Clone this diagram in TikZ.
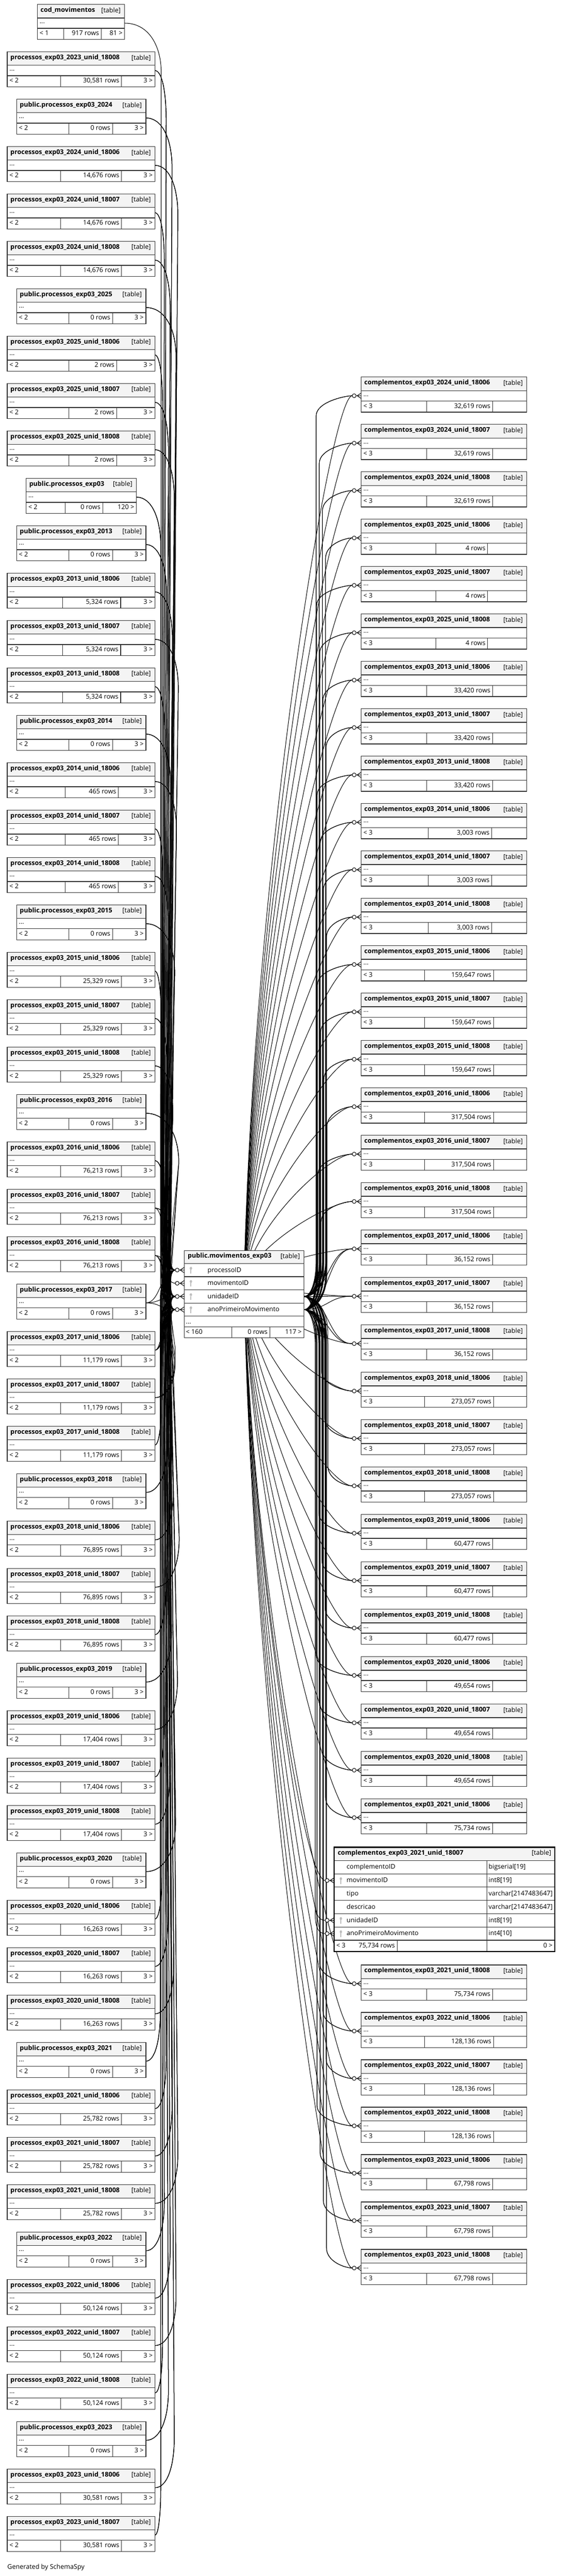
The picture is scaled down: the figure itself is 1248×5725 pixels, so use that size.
\documentclass[tikz,border=0pt]{standalone}
\usepackage{fontspec}
\setmainfont{Open Sans}
\definecolor{hdr}{RGB}{244,244,244}
\definecolor{bord}{RGB}{50,50,50}
\definecolor{keyg}{RGB}{190,190,190}
\pgfdeclarelayer{bg}
\pgfdeclarelayer{edges}
\pgfsetlayers{bg,edges,main}
\tikzset{
  tframe/.style={draw=none, fill=white, inner sep=0pt, outer sep=0pt, anchor=north west},
  cell/.style={draw=bord, line width=1.3pt},
  txt/.style={inner sep=0pt, outer sep=0pt, font=\fontsize{14.4}{17}\selectfont},
  conn/.style={draw=black, line width=1.15pt},
}
% crow's foot with open circle; port edge at x=#1, y=#2
\newcommand\crow[2]{%
  \pgfmathsetmacro\cwA{#1-9}\pgfmathsetmacro\cwB{#1-11}\pgfmathsetmacro\cwC{#1-15.5}%
  \pgfmathsetmacro\cwU{#2-6}\pgfmathsetmacro\cwD{#2+6}%
  \draw[conn] (\cwA,#2) -- (#1,\cwU) (\cwA,#2) -- (#1,\cwD) (\cwB,#2) -- (#1,#2);
  \draw[conn, fill=white] (\cwC,#2) circle (4.3);
}
\newcommand\keyicon[2]{%
  \pgfmathsetmacro\kyA{#2-4}\pgfmathsetmacro\kxA{#1-1.2}\pgfmathsetmacro\kxB{#1+1.2}%
  \pgfmathsetmacro\kyB{#2-1}\pgfmathsetmacro\kyC{#2+7.5}%
  \fill[keyg] (#1,\kyA) ellipse (2.7 and 3.2);
  \fill[keyg] (\kxA,\kyB) rectangle (\kxB,\kyC);
}
% small collapsed table: #1 name #2 x1 #3 x2 #4 ytop #5 title #6 left footer #7 rows #8 right footer ; dividers \dA \dB
\newcommand\stbl[8]{%
  \pgfmathsetmacro\tW{#3-#2}%
  \pgfmathsetmacro\yH{#4+30}\pgfmathsetmacro\yB{#4+53}\pgfmathsetmacro\yF{#4+78}%
  \pgfmathsetmacro\yT{#4+17}\pgfmathsetmacro\yK{#4+17.5}\pgfmathsetmacro\yD{#4+42.5}\pgfmathsetmacro\yR{#4+69}%
  \pgfmathsetmacro\yP{#4+41.5}%
  \pgfmathsetmacro\xT{#2+7}\pgfmathsetmacro\xK{#3-9}\pgfmathsetmacro\xL{#2+5}\pgfmathsetmacro\xN{\dB-5}\pgfmathsetmacro\xR{#3-5}%
  \node[tframe, minimum width=\tW pt, minimum height=78pt] (#1) at (#2,#4) {};
  \fill[hdr] (#2,#4) rectangle (#3,\yH);
  \draw[cell] (#2,#4) rectangle (#3,\yF) (#2,\yH) -- (#3,\yH) (#2,\yB) -- (#3,\yB) (\dA,\yB) -- (\dA,\yF) (\dB,\yB) -- (\dB,\yF);
  \node[txt, anchor=base west] (#1-t) at (\xT,\yT) {\bfseries #5};
  \node[txt, anchor=base east] (#1-k) at (\xK,\yK) {\relax[table]};
  \node[txt, anchor=base west] (#1-b) at (\xL,\yD) {...};
  \node[txt, anchor=base west] (#1-l) at (\xL,\yR) {#6};
  \node[txt, anchor=base east] (#1-n) at (\xN,\yR) {#7};
  \node[txt, anchor=base east] (#1-r) at (\xR,\yR) {#8};
  \coordinate (#1-p) at (#3,\yP);
}
\newcommand\LU[5]{%
  \pgfmathsetmacro\ty{10+#1*105.333}\def\dA{#4}\def\dB{#5}%
  \stbl{L#1}{16}{344}{\ty}{processos\_exp03\_#2}{< 2}{#3 rows}{3 >}%
  \expandafter\xdef\csname xsL#1\endcsname{344}%
}
\newcommand\LP[2]{%
  \pgfmathsetmacro\ty{10+#1*105.333}\def\dA{153}\def\dB{250}%
  \stbl{L#1}{37}{324}{\ty}{public.processos\_exp03\_#2}{< 2}{0 rows}{3 >}%
  \expandafter\xdef\csname xsL#1\endcsname{324}%
}
\newcommand\RC[5]{%
  \ifnum#1<31 \pgfmathsetmacro\ty{838+#1*105.333}\else\pgfmathsetmacro\ty{4367+(#1-32)*105.333}\fi
  \def\dA{#4}\def\dB{#5}%
  \stbl{R#1}{802}{1170}{\ty}{complementos\_exp03\_#2}{< 3}{#3 rows}{}%
  \pgfmathsetmacro\yt{\ty+41.5}%
  \expandafter\xdef\csname ytR#1\endcsname{\yt}%
  \coordinate (R#1-c) at (782.2,\yt);
  \crow{802}{\yt}%
}
% left edge: from, to, xs, ys, yp, bx
\newcommand\ledge[6]{%
  \pgfmathsetmacro\dy{#5-#4}\pgfmathsetmacro\ady{abs(\dy)}\pgfmathsetmacro\sg{\dy>0 ? 1 : -1}%
  \ifdim\ady pt>180pt
    \pgfmathsetmacro\hA{min(110,0.4*\ady)}\pgfmathsetmacro\hB{min(60,0.25*\ady)}%
    \pgfmathsetmacro\cAx{#3+0.65*(#6-#3)}\pgfmathsetmacro\cBy{#4+\sg*0.45*\hA}\pgfmathsetmacro\pAy{#4+\sg*\hA}%
    \pgfmathsetmacro\bxe{356+(#6-356)*0.55}\pgfmathsetmacro\pBy{#5-\sg*\hB}\pgfmathsetmacro\cCy{#5-\sg*0.35*\hB}%
    \draw[conn] (#1) .. controls (\cAx,#4) and (#6,\cBy) .. (#6,\pAy) -- (\bxe,\pBy) .. controls (\bxe,\cCy) and (378,#5) .. (#2);
  \else
    \pgfmathsetmacro\cAx{#3+0.5*(389-#3)}%
    \draw[conn] (#1) .. controls (\cAx,#4) and (\cAx,#5) .. (#2);
  \fi
}
% right edge: from, to, ysrc, yt, bx, xe
\newcommand\redge[6]{%
  \pgfmathsetmacro\dy{#4-#3}\pgfmathsetmacro\ady{abs(\dy)}\pgfmathsetmacro\sg{\dy>0 ? 1 : -1}%
  \ifdim\ady pt>150pt
    \pgfmathsetmacro\hA{min(80,0.35*\ady)}\pgfmathsetmacro\hB{min(45,0.25*\ady)}%
    \pgfmathsetmacro\cAx{675+0.6*(#5-675)}\pgfmathsetmacro\cBy{#3+\sg*0.45*\hA}\pgfmathsetmacro\pAy{#3+\sg*\hA}%
    \pgfmathsetmacro\pBy{#4-\sg*\hB}\pgfmathsetmacro\cCy{#4-\sg*0.3*\hB}\pgfmathsetmacro\cDx{#6-15}%
    \draw[conn] (#1) .. controls (\cAx,#3) and (#5,\cBy) .. (#5,\pAy) -- (#5,\pBy) .. controls (#5,\cCy) and (\cDx,#4) .. (#2);
  \else
    \pgfmathsetmacro\cAx{675+0.5*(#6-675)}%
    \draw[conn] (#1) .. controls (\cAx,#3) and (\cAx,#4) .. (#2);
  \fi
}
% edge from movimentoID (center of central table): to, yt, xe
\newcommand\medge[3]{%
  \pgfmathsetmacro\cAy{2852+0.45*(#2-2852)}\pgfmathsetmacro\cBx{#3-50}%
  \draw[conn] (MV-c) .. controls (560,\cAy) and (\cBx,#2) .. (#1);
}
\begin{document}
\begin{tikzpicture}[x=1pt,y=-1pt]
\useasboundingbox (0,0) rectangle (1248,5725);
\begin{pgfonlayer}{bg}
\fill[white] (0,0) rectangle (1248,5725);
\end{pgfonlayer}

% ---------------- left column ----------------
\def\dA{141}\def\dB{225}
\stbl{L0}{83}{277}{10}{cod\_movimentos}{< 1}{917 rows}{81 >}
\LU{1}{2023\_unid\_18008}{30,581}{135}{270}
\LP{2}{2024}
\LU{3}{2024\_unid\_18006}{14,676}{135}{270}
\LU{4}{2024\_unid\_18007}{14,676}{135}{270}
\LU{5}{2024\_unid\_18008}{14,676}{135}{270}
\LP{6}{2025}
\LU{7}{2025\_unid\_18006}{2}{153}{259}
\LU{8}{2025\_unid\_18007}{2}{153}{259}
\LU{9}{2025\_unid\_18008}{2}{153}{259}
\pgfmathsetmacro\ty{10+10*105.333}\def\dA{145}\def\dB{228}
\stbl{L10}{58}{303}{\ty}{public.processos\_exp03}{< 2}{0 rows}{120 >}
\expandafter\xdef\csname xsL10\endcsname{303}
\LP{11}{2013}
\LU{12}{2013\_unid\_18006}{5,324}{139}{268}
\LU{13}{2013\_unid\_18007}{5,324}{139}{268}
\LU{14}{2013\_unid\_18008}{5,324}{139}{268}
\LP{15}{2014}
\LU{16}{2014\_unid\_18006}{465}{145}{263}
\LU{17}{2014\_unid\_18007}{465}{145}{263}
\LU{18}{2014\_unid\_18008}{465}{145}{263}
\LP{19}{2015}
\LU{20}{2015\_unid\_18006}{25,329}{135}{270}
\LU{21}{2015\_unid\_18007}{25,329}{135}{270}
\LU{22}{2015\_unid\_18008}{25,329}{135}{270}
\LP{23}{2016}
\LU{24}{2016\_unid\_18006}{76,213}{135}{270}
\LU{25}{2016\_unid\_18007}{76,213}{135}{270}
\LU{26}{2016\_unid\_18008}{76,213}{135}{270}
\LP{27}{2017}
\LU{28}{2017\_unid\_18006}{11,179}{135}{270}
\LU{29}{2017\_unid\_18007}{11,179}{135}{270}
\LU{30}{2017\_unid\_18008}{11,179}{135}{270}
\LP{31}{2018}
\LU{32}{2018\_unid\_18006}{76,895}{135}{270}
\LU{33}{2018\_unid\_18007}{76,895}{135}{270}
\LU{34}{2018\_unid\_18008}{76,895}{135}{270}
\LP{35}{2019}
\LU{36}{2019\_unid\_18006}{17,404}{135}{270}
\LU{37}{2019\_unid\_18007}{17,404}{135}{270}
\LU{38}{2019\_unid\_18008}{17,404}{135}{270}
\LP{39}{2020}
\LU{40}{2020\_unid\_18006}{16,263}{135}{270}
\LU{41}{2020\_unid\_18007}{16,263}{135}{270}
\LU{42}{2020\_unid\_18008}{16,263}{135}{270}
\LP{43}{2021}
\LU{44}{2021\_unid\_18006}{25,782}{135}{270}
\LU{45}{2021\_unid\_18007}{25,782}{135}{270}
\LU{46}{2021\_unid\_18008}{25,782}{135}{270}
\LP{47}{2022}
\LU{48}{2022\_unid\_18006}{50,124}{135}{270}
\LU{49}{2022\_unid\_18007}{50,124}{135}{270}
\LU{50}{2022\_unid\_18008}{50,124}{135}{270}
\LP{51}{2023}
\LU{52}{2023\_unid\_18006}{30,581}{135}{270}
\LU{53}{2023\_unid\_18007}{30,581}{135}{270}

% ---------------- central table ----------------
\node[tframe, minimum width=266pt, minimum height=194pt] (MV) at (409,2779) {};
\fill[hdr] (409,2779) rectangle (675,2808);
\draw[cell] (409,2779) rectangle (675,2973)
  (409,2808) -- (675,2808) (409,2837.3) -- (675,2837.3) (409,2866.7) -- (675,2866.7)
  (409,2896) -- (675,2896) (409,2925) -- (675,2925) (409,2949) -- (675,2949)
  (515,2949) -- (515,2973) (599,2949) -- (599,2973);
\node[txt, anchor=base west] (MV-t) at (417,2796) {\bfseries public.movimentos\_exp03};
\node[txt, anchor=base east] (MV-k) at (666,2796.5) {\relax[table]};
\node[txt, anchor=base west] (MV-f1) at (461,2827) {processoID};
\node[txt, anchor=base west] (MV-f2) at (461,2856.3) {movimentoID};
\node[txt, anchor=base west] (MV-f3) at (461,2885.7) {unidadeID};
\node[txt, anchor=base west] (MV-f4) at (461,2915) {anoPrimeiroMovimento};
\keyicon{424}{2822.6}\keyicon{424}{2852}\keyicon{424}{2881.3}\keyicon{424}{2910.5}
\node[txt, anchor=base west] (MV-b) at (413,2942.5) {...};
\node[txt, anchor=base west] (MV-l) at (413,2965) {< 160};
\node[txt, anchor=base east] (MV-n) at (594,2965) {0 rows};
\node[txt, anchor=base east] (MV-r) at (670,2965) {117 >};
\coordinate (MV-P) at (389.2,2822.6);
\coordinate (MV-M) at (389.2,2852);
\coordinate (MV-U) at (389.2,2881.3);
\coordinate (MV-A) at (389.2,2910.5);
\coordinate (MV-Uo) at (675,2881.3);
\coordinate (MV-Ao) at (675,2910.5);
\coordinate (MV-c) at (542,2852);
\crow{409}{2822.6}\crow{409}{2852}\crow{409}{2881.3}\crow{409}{2910.5}

% ---------------- right column ----------------
\RC{0}{2024\_unid\_18006}{32,619}{947}{1094}
\RC{1}{2024\_unid\_18007}{32,619}{947}{1094}
\RC{2}{2024\_unid\_18008}{32,619}{947}{1094}
\RC{3}{2025\_unid\_18006}{4}{968}{1083}
\RC{4}{2025\_unid\_18007}{4}{968}{1083}
\RC{5}{2025\_unid\_18008}{4}{968}{1083}
\RC{6}{2013\_unid\_18006}{33,420}{947}{1094}
\RC{7}{2013\_unid\_18007}{33,420}{947}{1094}
\RC{8}{2013\_unid\_18008}{33,420}{947}{1094}
\RC{9}{2014\_unid\_18006}{3,003}{951}{1092}
\RC{10}{2014\_unid\_18007}{3,003}{951}{1092}
\RC{11}{2014\_unid\_18008}{3,003}{951}{1092}
\RC{12}{2015\_unid\_18006}{159,647}{943}{1096}
\RC{13}{2015\_unid\_18007}{159,647}{943}{1096}
\RC{14}{2015\_unid\_18008}{159,647}{943}{1096}
\RC{15}{2016\_unid\_18006}{317,504}{943}{1096}
\RC{16}{2016\_unid\_18007}{317,504}{943}{1096}
\RC{17}{2016\_unid\_18008}{317,504}{943}{1096}
\RC{18}{2017\_unid\_18006}{36,152}{947}{1094}
\RC{19}{2017\_unid\_18007}{36,152}{947}{1094}
\RC{20}{2017\_unid\_18008}{36,152}{947}{1094}
\RC{21}{2018\_unid\_18006}{273,057}{943}{1096}
\RC{22}{2018\_unid\_18007}{273,057}{943}{1096}
\RC{23}{2018\_unid\_18008}{273,057}{943}{1096}
\RC{24}{2019\_unid\_18006}{60,477}{947}{1094}
\RC{25}{2019\_unid\_18007}{60,477}{947}{1094}
\RC{26}{2019\_unid\_18008}{60,477}{947}{1094}
\RC{27}{2020\_unid\_18006}{49,654}{947}{1094}
\RC{28}{2020\_unid\_18007}{49,654}{947}{1094}
\RC{29}{2020\_unid\_18008}{49,654}{947}{1094}
\RC{30}{2021\_unid\_18006}{75,734}{947}{1094}
\RC{32}{2021\_unid\_18008}{75,734}{947}{1094}
\RC{33}{2022\_unid\_18006}{128,136}{943}{1096}
\RC{34}{2022\_unid\_18007}{128,136}{943}{1096}
\RC{35}{2022\_unid\_18008}{128,136}{943}{1096}
\RC{36}{2023\_unid\_18006}{67,798}{947}{1094}
\RC{37}{2023\_unid\_18007}{67,798}{947}{1094}
\RC{38}{2023\_unid\_18008}{67,798}{947}{1094}

% ---------------- expanded table ----------------
\node[tframe, minimum width=490pt, minimum height=232pt] (R31) at (742,4105) {};
\fill[hdr] (742,4105) rectangle (1232,4135);
\draw[cell] (742,4135) -- (1232,4135) (742,4164.5) -- (1232,4164.5) (742,4194) -- (1232,4194)
  (742,4223.5) -- (1232,4223.5) (742,4253) -- (1232,4253) (742,4282.5) -- (1232,4282.5)
  (742,4312) -- (1232,4312) (1081,4135) -- (1081,4337) (882,4312) -- (882,4337);
\draw[black, line width=3pt] (742,4105) rectangle (1232,4337);
\node[txt, anchor=base west] (R31-t) at (750,4122) {\bfseries complementos\_exp03\_2021\_unid\_18007};
\node[txt, anchor=base east] (R31-k) at (1224,4122.5) {\relax[table]};
\node[txt, anchor=base west] (R31-f1) at (770,4154) {complementoID};
\node[txt, anchor=base west] (R31-f2) at (770,4183.5) {movimentoID};
\node[txt, anchor=base west] (R31-f3) at (770,4213) {tipo};
\node[txt, anchor=base west] (R31-f4) at (770,4242.5) {descricao};
\node[txt, anchor=base west] (R31-f5) at (770,4272) {unidadeID};
\node[txt, anchor=base west] (R31-f6) at (770,4301.5) {anoPrimeiroMovimento};
\node[txt, anchor=base west] (R31-y1) at (1085,4154) {bigserial[19]};
\node[txt, anchor=base west] (R31-y2) at (1085,4183.5) {int8[19]};
\node[txt, anchor=base west] (R31-y3) at (1085,4213) {varchar[2147483647]};
\node[txt, anchor=base west] (R31-y4) at (1085,4242.5) {varchar[2147483647]};
\node[txt, anchor=base west] (R31-y5) at (1085,4272) {int8[19]};
\node[txt, anchor=base west] (R31-y6) at (1085,4301.5) {int4[10]};
\keyicon{757}{4179.25}\keyicon{757}{4267.75}\keyicon{757}{4297.25}
\node[txt, anchor=base west] (R31-l) at (747,4328.5) {< 3};
\node[txt, anchor=base east] (R31-n) at (877,4328.5) {75,734 rows};
\node[txt, anchor=base east] (R31-r) at (1227,4328.5) {0 >};
\coordinate (R31-Mc) at (722.2,4179.25);
\coordinate (R31-Uc) at (722.2,4267.75);
\coordinate (R31-Ac) at (722.2,4297.25);
\crow{742}{4179.25}\crow{742}{4267.75}\crow{742}{4297.25}

\node[txt, anchor=base west] (gen) at (16.5,5710) {Generated by SchemaSpy};

% ---------------- connectors ----------------
\begin{pgfonlayer}{edges}
\foreach \i in {1,...,53}{%
  \pgfmathsetmacro\ys{10+\i*105.333+41.5}%
  \edef\xs{\csname xsL\i\endcsname}%
  \pgfmathsetmacro\bx{356+mod(\i*13,43)}%
  \foreach \pp/\yp in {P/2822.6,U/2881.3,A/2910.5}{%
    \ledge{L\i-p}{MV-\pp}{\xs}{\ys}{\yp}{\bx}%
  }%
}
\ledge{L0-p}{MV-M}{277}{51.5}{2852}{358}
\foreach \j in {0,...,38}{%
  \ifnum\j=31 \else
    \edef\yt{\csname ytR\j\endcsname}%
    \pgfmathsetmacro\bx{702+mod(\j*7,27)}%
    \redge{MV-Uo}{R\j-c}{2881.3}{\yt}{\bx}{782.2}%
    \redge{MV-Ao}{R\j-c}{2910.5}{\yt}{\bx}{782.2}%
    \medge{R\j-c}{\yt}{782.2}%
  \fi
}
\redge{MV-Uo}{R31-Uc}{2881.3}{4267.75}{700}{722.2}
\redge{MV-Ao}{R31-Ac}{2910.5}{4297.25}{700}{722.2}
\medge{R31-Mc}{4179.25}{722.2}
\end{pgfonlayer}
\end{tikzpicture}
\end{document}
